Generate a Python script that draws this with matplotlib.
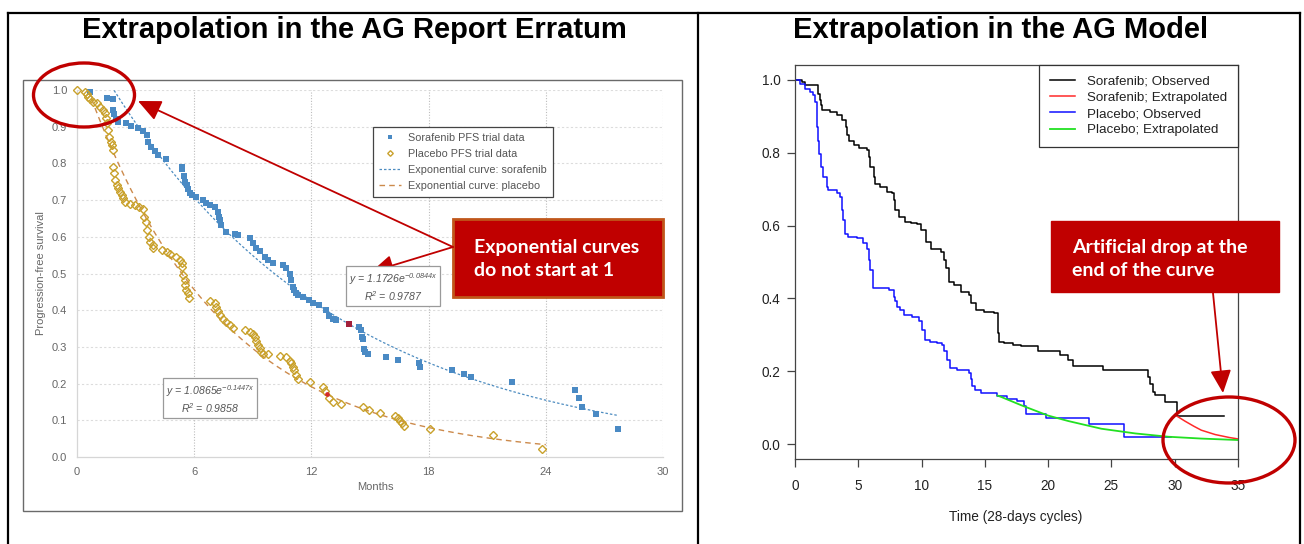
import numpy as np
import matplotlib
matplotlib.use("Agg")
import matplotlib.pyplot as plt
from matplotlib.patches import Ellipse, Rectangle, FancyArrowPatch

# ---------------- data: AG report erratum (months) ----------------
sor_months = [0.66, 1.55, 1.82, 1.86, 1.90, 1.99, 2.10, 2.50, 2.79, 3.13, 3.39, 3.56, 3.64,
              3.81, 3.98, 4.15, 4.58, 5.35, 5.40, 5.48, 5.55, 5.62, 5.70, 5.80, 5.90, 6.11,
              6.45, 6.62, 6.79, 7.07, 7.20, 7.28, 7.33, 7.39, 7.64, 8.07, 8.22, 8.84, 9.00,
              9.18, 9.35, 9.60, 9.77, 10.03, 10.54, 10.71, 10.88, 10.96, 11.05, 11.13, 11.22,
              11.30, 11.56, 11.90, 12.07, 12.41, 12.75, 12.92, 13.10, 13.26, 14.42, 14.54,
              14.57, 14.62, 14.67, 14.76, 14.88, 15.82, 16.41, 17.52, 17.55, 19.19, 19.80,
              20.16, 22.25, 25.49, 25.69, 25.86, 26.57, 27.70]
sor_pfs = [0.995, 0.979, 0.975, 0.946, 0.935, 0.920, 0.912, 0.909, 0.903, 0.896, 0.889, 0.877,
           0.859, 0.844, 0.835, 0.823, 0.811, 0.789, 0.785, 0.765, 0.750, 0.740, 0.730, 0.720,
           0.715, 0.709, 0.700, 0.693, 0.687, 0.682, 0.668, 0.655, 0.646, 0.632, 0.614, 0.608,
           0.605, 0.596, 0.582, 0.569, 0.560, 0.546, 0.537, 0.529, 0.523, 0.514, 0.500, 0.482,
           0.464, 0.455, 0.446, 0.441, 0.437, 0.428, 0.420, 0.414, 0.400, 0.385, 0.376, 0.374,
           0.353, 0.346, 0.328, 0.321, 0.293, 0.287, 0.281, 0.272, 0.263, 0.255, 0.246, 0.236,
           0.227, 0.217, 0.203, 0.183, 0.160, 0.137, 0.116, 0.077]
sor_marked = (13.94, 0.362)

pla_months = [0.00, 0.41, 0.49, 0.58, 0.66, 0.83, 1.00, 1.17, 1.34, 1.43, 1.48, 1.55, 1.60,
              1.65, 1.72, 1.77, 1.82, 1.86, 1.89, 1.94, 2.03, 2.11, 2.20, 2.28, 2.36, 2.45,
              2.71, 2.96, 3.18, 3.39, 3.42, 3.52, 3.59, 3.69, 3.76, 3.87, 3.90, 4.33, 4.61,
              4.75, 5.09, 5.26, 5.35, 5.40, 5.43, 5.52, 5.55, 5.60, 5.68, 5.74, 6.83, 7.05,
              7.13, 7.22, 7.30, 7.47, 7.61, 7.81, 7.98, 8.58, 8.84, 9.00, 9.09, 9.18, 9.26,
              9.35, 9.43, 9.51, 9.77, 10.37, 10.71, 10.88, 10.96, 11.05, 11.13, 11.22, 11.30,
              11.93, 12.58, 12.72, 12.92, 13.13, 13.52, 14.66, 14.93, 15.51, 16.29, 16.41,
              16.53, 16.63, 16.75, 18.06, 21.31, 23.82]
pla_pfs = [1.000, 0.995, 0.988, 0.982, 0.975, 0.968, 0.964, 0.955, 0.946, 0.936, 0.923, 0.909,
           0.891, 0.873, 0.859, 0.850, 0.837, 0.791, 0.773, 0.755, 0.741, 0.732, 0.723, 0.714,
           0.705, 0.696, 0.689, 0.687, 0.682, 0.675, 0.655, 0.641, 0.619, 0.600, 0.587, 0.578,
           0.569, 0.564, 0.559, 0.553, 0.546, 0.537, 0.528, 0.519, 0.496, 0.482, 0.469, 0.455,
           0.446, 0.432, 0.426, 0.420, 0.410, 0.399, 0.387, 0.375, 0.369, 0.360, 0.351, 0.346,
           0.341, 0.335, 0.326, 0.317, 0.305, 0.296, 0.287, 0.281, 0.281, 0.275, 0.272, 0.262,
           0.255, 0.246, 0.237, 0.223, 0.212, 0.203, 0.192, 0.181, 0.160, 0.151, 0.144, 0.137,
           0.128, 0.121, 0.112, 0.105, 0.099, 0.092, 0.084, 0.075, 0.060, 0.022]
pla_marked = (12.78, 0.172)

# exponential fits y = a * exp(-b x), with the range each curve is drawn over
sor_fit_a, sor_fit_b, sor_fit_r2 = 1.1726, 0.0844, 0.9787
pla_fit_a, pla_fit_b, pla_fit_r2 = 1.0865, 0.1447, 0.9858
sor_fit_range = (1.9, 27.7)
pla_fit_range = (0.57, 24.0)

month_ticks = [0, 6, 12, 18, 24, 30]
pfs_ticks = [0.0, 0.1, 0.2, 0.3, 0.4, 0.5, 0.6, 0.7, 0.8, 0.9, 1.0]

# ---------------- data: AG model (28-day cycles) ----------------
km_sor_t = [0, 0.55, 0.8, 1.85, 1.98, 2.04, 2.12, 2.78, 3.3, 3.7, 4.0, 4.1, 4.23, 4.63, 5.03,
            5.7, 5.82, 5.95, 6.22, 6.35, 6.75, 7.28, 7.67, 7.8, 7.94, 8.2, 8.73, 9.13, 9.66,
            9.92, 10.32, 10.71, 11.51, 11.77, 11.9, 12.17, 12.57, 13.1, 13.76, 13.89, 14.29,
            14.95, 15.75, 16.02, 16.15, 16.53, 17.2, 17.86, 19.18, 20.9, 21.56, 21.96, 24.3,
            27.9, 28.05, 28.3, 28.45, 29.2, 30.2, 33.9]
km_sor_s = [1.0, 0.993, 0.986, 0.961, 0.945, 0.930, 0.917, 0.911, 0.902, 0.888, 0.870, 0.847,
            0.833, 0.820, 0.813, 0.808, 0.788, 0.760, 0.733, 0.715, 0.706, 0.692, 0.688, 0.669,
            0.642, 0.624, 0.610, 0.606, 0.604, 0.587, 0.555, 0.537, 0.528, 0.505, 0.483, 0.446,
            0.437, 0.419, 0.410, 0.387, 0.369, 0.364, 0.360, 0.305, 0.282, 0.278, 0.273, 0.269,
            0.255, 0.246, 0.232, 0.216, 0.205, 0.185, 0.165, 0.145, 0.135, 0.115, 0.077, 0.077]

km_pla_t = [0, 0.4, 0.8, 1.2, 1.45, 1.58, 1.7, 1.77, 1.85, 1.93, 2.04, 2.24, 2.51, 2.64, 3.3,
            3.57, 3.7, 3.83, 3.96, 4.22, 4.89, 5.41, 5.68, 5.81, 5.94, 6.16, 6.2, 7.4, 7.79,
            7.92, 8.06, 8.32, 8.58, 9.25, 9.77, 10.04, 10.3, 10.7, 11.23, 11.62, 11.75, 12.02,
            12.28, 12.81, 13.73, 13.87, 14.0, 14.26, 14.66, 15.98, 16.77, 17.57, 18.09, 18.22,
            19.8, 23.24, 26.01, 29.7]
km_pla_s = [1.0, 0.988, 0.975, 0.965, 0.958, 0.938, 0.915, 0.870, 0.833, 0.797, 0.760, 0.733,
            0.706, 0.697, 0.688, 0.678, 0.642, 0.615, 0.578, 0.569, 0.565, 0.551, 0.537, 0.505,
            0.478, 0.451, 0.428, 0.423, 0.405, 0.392, 0.378, 0.369, 0.355, 0.349, 0.337, 0.314,
            0.287, 0.281, 0.278, 0.273, 0.255, 0.232, 0.210, 0.205, 0.196, 0.178, 0.159, 0.150,
            0.141, 0.134, 0.125, 0.118, 0.105, 0.082, 0.073, 0.057, 0.021, 0.021]

ext_sor_t = [30.2, 30.8, 31.5, 32.1, 33.2, 34.3, 35.0]
ext_sor_s = [0.077, 0.064, 0.050, 0.039, 0.027, 0.019, 0.015]
ext_pla_t = [16.0, 16.3, 17.9, 20.0, 21.6, 24.2, 26.9, 29.5, 32.1, 35.0]
ext_pla_s = [0.134, 0.130, 0.107, 0.079, 0.064, 0.043, 0.030, 0.021, 0.016, 0.012]

cycle_ticks = [0, 5, 10, 15, 20, 25, 30, 35]
surv_ticks = [0.0, 0.2, 0.4, 0.6, 0.8, 1.0]

# ---------------- figure ----------------
plt.rcParams["font.family"] = ["Liberation Sans", "DejaVu Sans"]
plt.rcParams["mathtext.fontset"] = "custom"
plt.rcParams["mathtext.it"] = "Liberation Sans:italic"
plt.rcParams["mathtext.rm"] = "Liberation Sans:italic"

W, H = 1304, 544
fig = plt.figure(figsize=(W / 100, H / 100), dpi=100)
fig.patch.set_facecolor("white")


def place(x0, y0, x1, y1, **kw):
    return fig.add_axes([x0 / W, 1 - y1 / H, (x1 - x0) / W, (y1 - y0) / H], **kw)


DARK_RED = "#C00000"
GREY_TXT = "#666666"

# ---------- left panel: Excel-style scatter with exponential fits ----------
axL = place(77, 90, 663, 457)
axL.set_xlim(0, 30)
axL.set_ylim(0, 1.0)
for y in pfs_ticks[1:]:
    axL.axhline(y, color="#dcdcdc", lw=0.8, ls=(0, (2, 2)), zorder=0)
for x in month_ticks[1:]:
    axL.axvline(x, color="#bdbdbd", lw=0.8, ls=(0, (1, 1.5)), zorder=0)
for side in ("top", "right"):
    axL.spines[side].set_visible(False)
for side in ("left", "bottom"):
    axL.spines[side].set_color("#d6d6d6")
    axL.spines[side].set_linewidth(0.9)
axL.set_xticks(month_ticks)
axL.set_yticks(pfs_ticks)
axL.set_yticklabels([f"{v:.1f}" for v in pfs_ticks])
axL.tick_params(length=0, labelsize=8, labelcolor=GREY_TXT, pad=7)

blue_pt = "#4a8ac4"
gold_pt = "#c9a12c"
h1, = axL.plot(sor_months, sor_pfs, "s", ms=4.2, color=blue_pt, mew=0,
               clip_on=False, zorder=3, label="Sorafenib PFS trial data")
h2, = axL.plot(pla_months, pla_pfs, "D", ms=3.8, mfc="none", mec=gold_pt, mew=1.0,
               clip_on=False, zorder=3, label="Placebo PFS trial data")
axL.plot(*sor_marked, "s", ms=4.4, color="#a3203a", mew=0, zorder=4)
axL.plot(*pla_marked, "o", ms=3.4, color="#d42a2a", mew=0, zorder=4)

xs = np.linspace(*sor_fit_range, 300)
h3, = axL.plot(xs, sor_fit_a * np.exp(-sor_fit_b * xs), color="#4d8cc0", lw=0.9,
               ls=(0, (2, 1.6)), zorder=2, label="Exponential curve: sorafenib")
xp = np.linspace(*pla_fit_range, 300)
h4, = axL.plot(xp, pla_fit_a * np.exp(-pla_fit_b * xp), color="#cc8a4c", lw=1.0,
               ls=(0, (4, 3)), zorder=2, label="Exponential curve: placebo")

legL = axL.legend(handles=[h1, h2, h3, h4], loc="upper left",
                  bbox_to_anchor=((373 - 77) / 586, (457 - 127) / 367),
                  borderaxespad=0, fontsize=7.8, frameon=True, fancybox=False,
                  edgecolor="#444444", framealpha=1, handlelength=2.0,
                  handletextpad=0.7, labelspacing=0.55, borderpad=0.55, markerscale=0.75)
legL.get_frame().set_linewidth(0.9)
for t in legL.get_texts():
    t.set_color("#555555")

# ---------- right panel: R-style KM curves ----------
axR = place(795, 65, 1238, 459)
axR.set_xlim(0, 35)
axR.set_ylim(-0.04, 1.04)
for side in axR.spines.values():
    side.set_color("#444444")
    side.set_linewidth(0.9)
axR.set_xticks(cycle_ticks)
axR.set_yticks(surv_ticks)
axR.set_yticklabels([f"{v:.1f}" for v in surv_ticks])
axR.tick_params(direction="out", length=5.5, width=0.9, color="#444444",
                labelsize=9.8, labelcolor="#222222")
axR.tick_params(axis="x", pad=9)
axR.tick_params(axis="y", pad=5)

r1, = axR.step(km_sor_t, km_sor_s, where="post", color="black", lw=1.1,
               label="Sorafenib; Observed")
r2, = axR.plot(ext_sor_t, ext_sor_s, color="#ff2a2a", lw=1.1, label="Sorafenib; Extrapolated")
r3, = axR.step(km_pla_t, km_pla_s, where="post", color="#1010ff", lw=1.1,
               label="Placebo; Observed")
r4, = axR.plot(ext_pla_t, ext_pla_s, color="#22e022", lw=1.3, label="Placebo; Extrapolated")

legR = axR.legend(handles=[r1, r2, r3, r4], loc="upper right", bbox_to_anchor=(1.0, 1.0),
                  borderaxespad=0, fontsize=9.6, frameon=True, fancybox=False,
                  edgecolor="#333333", framealpha=1, handlelength=1.9,
                  handletextpad=0.9, labelspacing=0.28, borderpad=0.8)
legR.get_frame().set_linewidth(0.9)
for t in legR.get_texts():
    t.set_color("#222222")

# ---------- overlay: frames, titles, callouts ----------
ov = fig.add_axes([0, 0, 1, 1], zorder=10)
ov.set_xlim(0, W)
ov.set_ylim(H, 0)
ov.axis("off")

# table frame
for xa, ya, xb, yb in [(8, 13, 1300, 13), (8, 13, 8, H), (698, 13, 698, H), (1300, 13, 1300, H)]:
    ov.plot([xa, xb], [ya, yb], color="black", lw=1.6, solid_capstyle="projecting")

# left picture frame
ov.add_patch(Rectangle((23, 80), 682 - 23, 511 - 80, fill=False, ec="#6a6a6a", lw=1.0))

ov.text(354, 30, "Extrapolation in the AG Report Erratum", ha="center", va="center",
        fontsize=21, fontweight="bold", color="black")
ov.text(1001, 30, "Extrapolation in the AG Model", ha="center", va="center",
        fontsize=21, fontweight="bold", color="black")

# axis titles
ov.text(375, 487, "Months", ha="center", va="center", fontsize=8, color=GREY_TXT)
ov.text(41, 273, "Progression-free survival", ha="center", va="center", rotation=90,
        fontsize=8, color=GREY_TXT)
ov.text(1016, 517, "Time (28-days cycles)", ha="center", va="center", fontsize=9.8,
        color="#222222")


def eq_label(a, b, r2):
    first = f"y = {a:.4f}e" + "$^{-" + f"{b:.4f}" + "x}$"
    second = "R$^2$ = " + f"{r2:.4f}"
    return first + "\n" + second


box_style = dict(boxstyle="square,pad=0.3", fc="white", ec="#9a9a9a", lw=0.9)
ov.text(393, 287, eq_label(sor_fit_a, sor_fit_b, sor_fit_r2), ha="center", va="center",
        fontsize=7.6, color="#555555", style="italic", bbox=box_style, linespacing=1.15)
ov.text(210, 399, eq_label(pla_fit_a, pla_fit_b, pla_fit_r2), ha="center", va="center",
        fontsize=7.6, color="#555555", style="italic", bbox=box_style, linespacing=1.15)

# red callout boxes
callout_font = ["Lato", "Open Sans", "DejaVu Sans"]
ov.add_patch(Rectangle((453, 219), 663 - 453, 297 - 219, fc=DARK_RED, ec="#c0561a", lw=2))
ov.text(474, 259, "Exponential curves\ndo not start at 1", ha="left", va="center",
        fontsize=14, fontweight="bold", color="white", family=callout_font, linespacing=1.45)
ov.add_patch(Rectangle((1051, 221), 1279 - 1051, 292 - 221, fc=DARK_RED, ec=DARK_RED, lw=1))
ov.text(1072, 259, "Artificial drop at the\nend of the curve", ha="left", va="center",
        fontsize=14, fontweight="bold", color="white", family=callout_font, linespacing=1.4)

# arrows
arrow_kw = dict(arrowstyle="-|>,head_length=0.7,head_width=0.32", mutation_scale=20,
                color=DARK_RED, lw=1.3, shrinkA=0, shrinkB=0)
ov.add_patch(FancyArrowPatch((453, 247), (138, 101), **arrow_kw))
ov.add_patch(FancyArrowPatch((453, 247), (371, 272), **arrow_kw))
ov.add_patch(FancyArrowPatch((1213, 293), (1223, 393), **arrow_kw))

# highlight ellipses
ov.add_patch(Ellipse((84, 95), 101, 64, fill=False, ec=DARK_RED, lw=2.4))
ov.add_patch(Ellipse((1229, 440), 132, 86, fill=False, ec=DARK_RED, lw=2.4))

fig.savefig("out.png", dpi=100, facecolor="white")
